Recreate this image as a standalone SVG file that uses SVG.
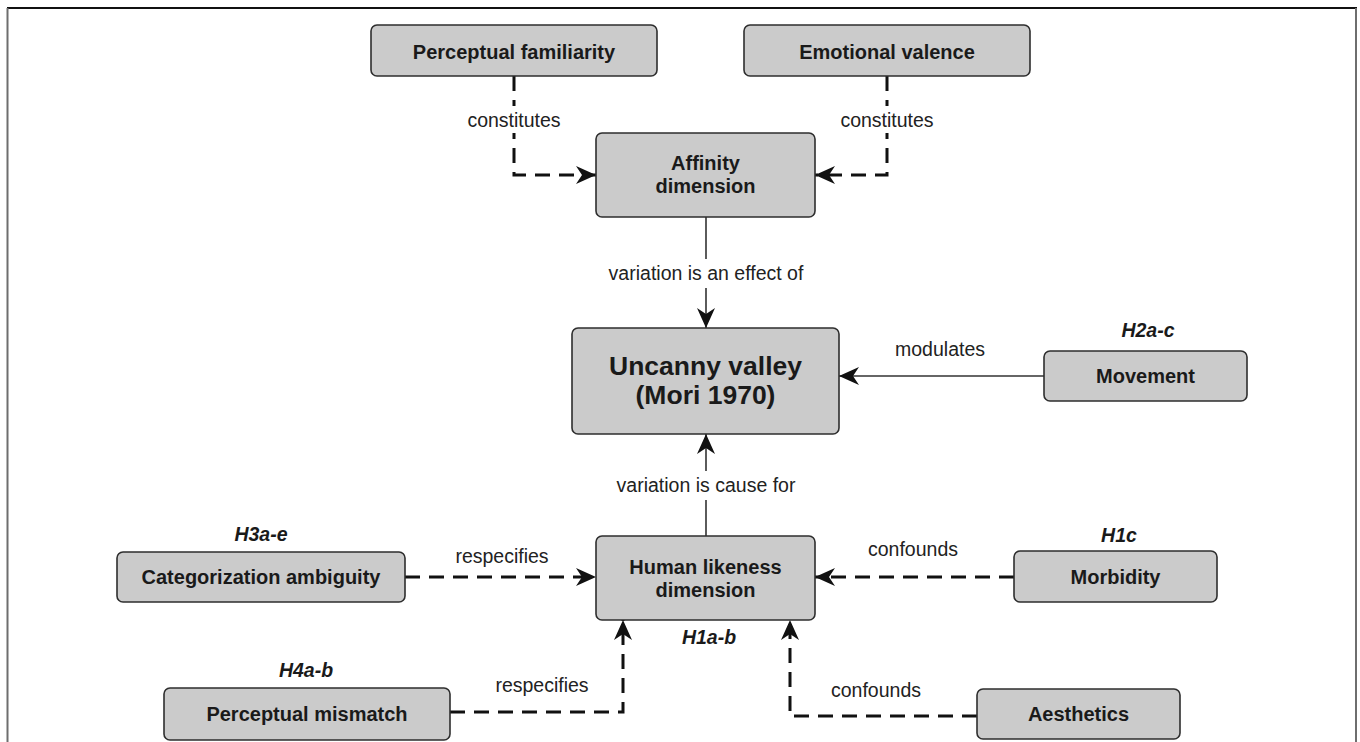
<svg xmlns="http://www.w3.org/2000/svg" width="1360" height="742" viewBox="0 0 1360 742">
  <style>
    .box { fill: #cbcbcb; stroke: #2e2e2e; stroke-width: 1.6; }
    .name { font-family: "Liberation Sans", Arial, sans-serif; font-weight: bold; font-size: 20px; fill: #1a1a1a; text-anchor: middle; }
    .big { font-size: 26.5px; }
    .hyp { font-family: "Liberation Sans", Arial, sans-serif; font-weight: bold; font-style: italic; font-size: 19.5px; fill: #1a1a1a; text-anchor: middle; }
    .lbl { font-family: "Liberation Sans", Arial, sans-serif; font-size: 19.5px; fill: #222; text-anchor: middle; }
    .solid { fill: none; stroke: #333; stroke-width: 1.6; }
    .dash { fill: none; stroke: #111; stroke-width: 3; stroke-dasharray: 15 9; }
    .bg { fill: #fff; }
  </style>
  <defs>
    <marker id="arrow" markerUnits="userSpaceOnUse" markerWidth="22" markerHeight="20" refX="20" refY="9" orient="auto">
      <path d="M0,0 L20,9 L0,18 L6,9 z" fill="#111"/>
    </marker>
  </defs>

  <!-- frame -->
  <g id="frame">
    <line x1="7" y1="8" x2="1357" y2="8" stroke="#111" stroke-width="1.8"/>
    <line x1="7.5" y1="8" x2="7.5" y2="742" stroke="#6e6e6e" stroke-width="2"/>
    <line x1="1356" y1="8" x2="1356" y2="742" stroke="#6e6e6e" stroke-width="2"/>
  </g>

  <!-- connectors -->
  <g id="connectors">
    <path class="dash" d="M514,76 V175 H596" marker-end="url(#arrow)"/>
    <path class="dash" d="M887,76 V175 H815" marker-end="url(#arrow)"/>
    <path class="solid" d="M706,217 V328" marker-end="url(#arrow)"/>
    <path class="solid" d="M1044,376 H839" marker-end="url(#arrow)"/>
    <path class="solid" d="M706,536 V434" marker-end="url(#arrow)"/>
    <path class="dash" d="M405,577 H596" marker-end="url(#arrow)"/>
    <path class="dash" d="M1014,577 H815" marker-end="url(#arrow)"/>
    <path class="dash" d="M450,712 H623 V620" marker-end="url(#arrow)"/>
    <path class="dash" d="M977,716 H790 V620" marker-end="url(#arrow)"/>

    <rect class="bg" x="464" y="106" width="100" height="27"/>
    <text class="lbl" x="514" y="127">constitutes</text>
    <rect class="bg" x="837" y="106" width="100" height="27"/>
    <text class="lbl" x="887" y="127">constitutes</text>
    <rect class="bg" x="603" y="259" width="206" height="29"/>
    <text class="lbl" x="706" y="280">variation is an effect of</text>
    <text class="lbl" x="940" y="356">modulates</text>
    <rect class="bg" x="610" y="471" width="192" height="29"/>
    <text class="lbl" x="706" y="492">variation is cause for</text>
    <text class="lbl" x="502" y="563">respecifies</text>
    <text class="lbl" x="913" y="556">confounds</text>
    <text class="lbl" x="542" y="692">respecifies</text>
    <text class="lbl" x="876" y="697">confounds</text>
  </g>

  <g id="perceptual-familiarity">
    <rect class="box" x="371" y="25" width="286" height="51" rx="6"/>
    <text class="name" x="514" y="59">Perceptual familiarity</text>
  </g>

  <g id="emotional-valence">
    <rect class="box" x="744" y="25" width="286" height="51" rx="6"/>
    <text class="name" x="887" y="59">Emotional valence</text>
  </g>

  <g id="affinity-dimension">
    <rect class="box" x="596" y="133" width="219" height="84" rx="6"/>
    <text class="name" x="705.5" y="170">Affinity</text>
    <text class="name" x="705.5" y="193">dimension</text>
  </g>

  <g id="uncanny-valley">
    <rect class="box" x="572" y="328" width="267" height="106" rx="6"/>
    <text class="name big" x="705.5" y="375">Uncanny valley</text>
    <text class="name big" x="705.5" y="404">(Mori 1970)</text>
  </g>

  <g id="movement">
    <text class="hyp" x="1148" y="337">H2a-c</text>
    <rect class="box" x="1044" y="351" width="203" height="50" rx="6"/>
    <text class="name" x="1145.5" y="383">Movement</text>
  </g>

  <g id="human-likeness-dimension">
    <rect class="box" x="596" y="536" width="219" height="84" rx="6"/>
    <text class="name" x="705.5" y="574">Human likeness</text>
    <text class="name" x="705.5" y="597">dimension</text>
    <text class="hyp" x="709" y="644">H1a-b</text>
  </g>

  <g id="categorization-ambiguity">
    <text class="hyp" x="261" y="541">H3a-e</text>
    <rect class="box" x="117" y="552" width="288" height="50" rx="6"/>
    <text class="name" x="261" y="584">Categorization ambiguity</text>
  </g>

  <g id="morbidity">
    <text class="hyp" x="1119" y="542">H1c</text>
    <rect class="box" x="1014" y="551" width="203" height="51" rx="6"/>
    <text class="name" x="1115.5" y="584">Morbidity</text>
  </g>

  <g id="perceptual-mismatch">
    <text class="hyp" x="306" y="677">H4a-b</text>
    <rect class="box" x="164" y="688" width="286" height="52" rx="6"/>
    <text class="name" x="307" y="721">Perceptual mismatch</text>
  </g>

  <g id="aesthetics">
    <rect class="box" x="977" y="689" width="203" height="50" rx="6"/>
    <text class="name" x="1078.5" y="721">Aesthetics</text>
  </g>
</svg>
